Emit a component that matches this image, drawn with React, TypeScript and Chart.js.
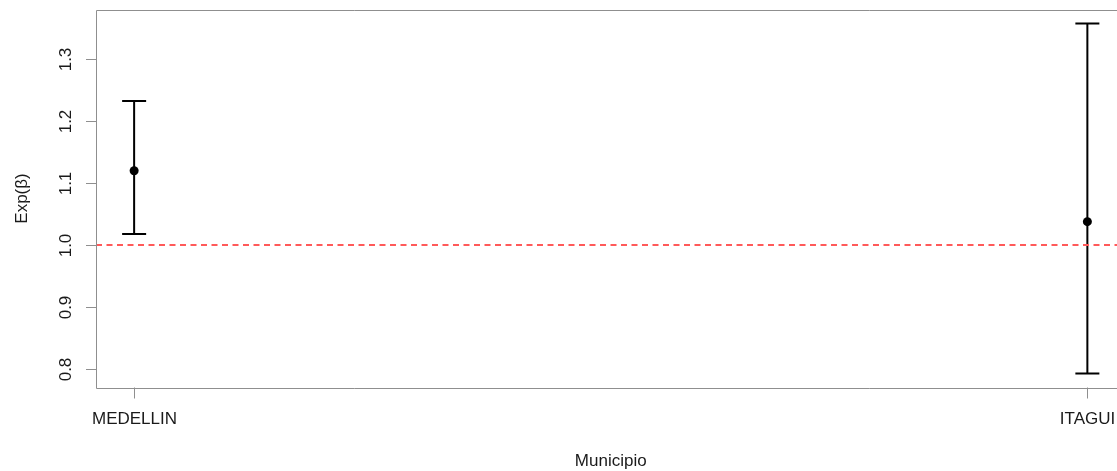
import React, { useEffect, useRef } from "react";
import { Chart, registerables } from "chart.js";

Chart.register(...registerables);

const municipios = ["MEDELLIN", "ITAGUI"];
const estimates = [1.1195, 1.0375];
const lowerCI = [1.0177, 0.7931];
const upperCI = [1.2315, 1.3564];
const yTicks = [0.8, 0.9, 1.0, 1.1, 1.2, 1.3];
const yTickLabels = ["0.8", "0.9", "1.0", "1.1", "1.2", "1.3"];
const referenceValue = 1.0;
const xTitle = "Municipio";
const yTitle = "Exp(\u03B2)";

const FONT = "17px 'Liberation Sans', Arial, sans-serif";
const TEXT = "#1a1a1a";
const AXIS = "#8f8f8f";

export default function App() {
  const ref = useRef<HTMLCanvasElement | null>(null);

  useEffect(() => {
    const canvas = ref.current;
    if (!canvas) return;

    const lo = Math.min(...lowerCI);
    const hi = Math.max(...upperCI);
    const pad = (hi - lo) * 0.04;
    const xPad = (municipios.length - 1) * 0.04;

    const overlay = {
      id: "rbase",
      beforeDatasetsDraw(chart: any) {
        const ctx = chart.ctx;
        const xs = chart.scales.x;
        const ys = chart.scales.y;
        ctx.save();
        ctx.strokeStyle = "#000";
        ctx.lineWidth = 2;
        municipios.forEach((_, i) => {
          const x = xs.getPixelForValue(i + 1);
          const yl = ys.getPixelForValue(lowerCI[i]);
          const yu = ys.getPixelForValue(upperCI[i]);
          ctx.beginPath();
          ctx.moveTo(x, yl);
          ctx.lineTo(x, yu);
          ctx.moveTo(x - 12, yl);
          ctx.lineTo(x + 12, yl);
          ctx.moveTo(x - 12, yu);
          ctx.lineTo(x + 12, yu);
          ctx.stroke();
        });
        const yr = ys.getPixelForValue(referenceValue);
        ctx.strokeStyle = "#ff5a5a";
        ctx.lineWidth = 2;
        ctx.setLineDash([6, 4.5]);
        ctx.beginPath();
        ctx.moveTo(chart.chartArea.left, yr);
        ctx.lineTo(chart.chartArea.right, yr);
        ctx.stroke();
        ctx.restore();
      },
      afterDraw(chart: any) {
        const ctx = chart.ctx;
        const xs = chart.scales.x;
        const ys = chart.scales.y;
        const a = chart.chartArea;
        const L = Math.round(a.left) + 0.5;
        const T = Math.round(a.top) + 0.5;
        const B = Math.round(a.bottom) + 0.5;
        ctx.save();
        ctx.strokeStyle = AXIS;
        ctx.lineWidth = 1;
        ctx.beginPath();
        ctx.moveTo(a.right + 2, T);
        ctx.lineTo(L, T);
        ctx.lineTo(L, B);
        ctx.lineTo(a.right + 2, B);
        ctx.stroke();

        ctx.font = FONT;
        ctx.fillStyle = TEXT;
        yTicks.forEach((v, i) => {
          const y = Math.round(ys.getPixelForValue(v)) + 0.5;
          ctx.beginPath();
          ctx.moveTo(a.left - 10, y);
          ctx.lineTo(a.left, y);
          ctx.stroke();
          ctx.save();
          ctx.translate(66, y);
          ctx.rotate(-Math.PI / 2);
          ctx.textAlign = "center";
          ctx.textBaseline = "middle";
          ctx.fillText(yTickLabels[i], 0, 0);
          ctx.restore();
        });
        municipios.forEach((m, i) => {
          const x = Math.round(xs.getPixelForValue(i + 1)) + 0.5;
          ctx.beginPath();
          ctx.moveTo(x, a.bottom);
          ctx.lineTo(x, a.bottom + 11);
          ctx.stroke();
          ctx.textAlign = "center";
          ctx.textBaseline = "middle";
          ctx.fillText(m, x, 419);
        });
        ctx.textAlign = "center";
        ctx.textBaseline = "middle";
        ctx.fillText(xTitle, (a.left + a.right) / 2, 461);
        ctx.save();
        ctx.translate(22, (a.top + a.bottom) / 2);
        ctx.rotate(-Math.PI / 2);
        ctx.fillText(yTitle, 0, 0);
        ctx.restore();
        ctx.restore();
      },
    };

    const chart = new Chart(canvas, {
      type: "scatter",
      data: {
        datasets: [
          {
            data: municipios.map((_, i) => ({ x: i + 1, y: estimates[i] })),
            pointRadius: 4.5,
            pointHoverRadius: 4.5,
            backgroundColor: "#000",
            borderWidth: 0,
          },
        ],
      },
      options: {
        responsive: false,
        animation: false,
        events: [],
        layout: { padding: { left: 96, right: 4, top: 9.5, bottom: 471 - 387.5 } },
        plugins: { legend: { display: false }, tooltip: { enabled: false } },
        scales: {
          x: { type: "linear", display: false, min: 1 - xPad, max: municipios.length + xPad },
          y: { type: "linear", display: false, min: lo - pad, max: hi + pad },
        },
      },
      plugins: [overlay],
    });
    return () => chart.destroy();
  }, []);

  return (
    <div style={{ position: "fixed", left: 0, top: 0, width: 1117, height: 471, overflow: "hidden", background: "#fff" }}>
      <canvas ref={ref} width={1130} height={471} style={{ display: "block", width: 1130, height: 471 }} />
    </div>
  );
}
